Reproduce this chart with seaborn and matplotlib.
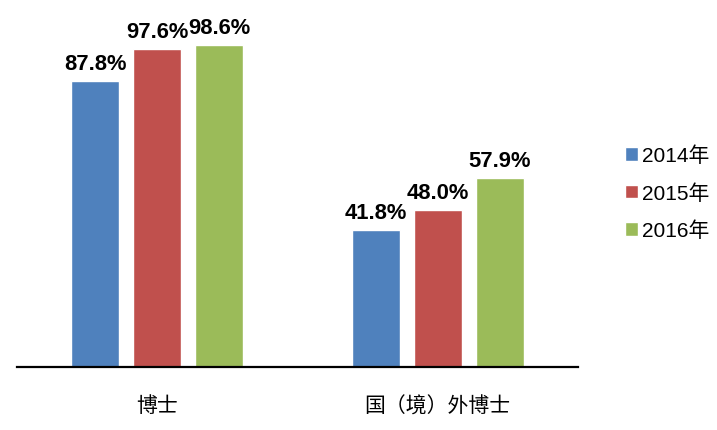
import matplotlib
matplotlib.use("Agg")
import matplotlib.pyplot as plt
import pandas as pd
import seaborn as sns

categories = ["博士", "国（境）外博士"]
years = ["2014年", "2015年", "2016年"]
rate_2014 = [87.8, 41.8]
rate_2015 = [97.6, 48.0]
rate_2016 = [98.6, 57.9]
colors = ["#4F81BD", "#C0504D", "#9BBB59"]

df = pd.DataFrame({
    "cat": categories * 3,
    "year": [y for y in years for _ in categories],
    "rate": rate_2014 + rate_2015 + rate_2016,
})

sns.set_style("white")
plt.rcParams["font.family"] = ["Liberation Sans", "Noto Sans CJK SC"]
plt.rcParams["text.color"] = "black"
plt.rcParams["xtick.color"] = "black"

fig = plt.figure(figsize=(7.17, 4.31), dpi=100)
ax = fig.add_axes([17 / 717, 63.5 / 431, 561 / 717, 342 / 431])

sns.barplot(data=df, x="cat", y="rate", hue="year", palette=colors,
            width=0.663, gap=0.226, saturation=1, ax=ax, legend=True)

for c in ax.containers:
    ax.bar_label(c, fmt="%.1f%%", padding=5, fontsize=15.8, fontweight="bold",
                 color="black", family=["Liberation Sans"])

ax.set_xlim(-0.5, 1.5)
ax.set_ylim(0, 105)
ax.set_xlabel("")
ax.set_ylabel("")
ax.set_yticks([])
ax.tick_params(axis="x", length=0, pad=20, labelsize=15, labelcolor="black")
for t in ax.get_xticklabels():
    t.set_family(["Noto Sans CJK SC"])
for s in ["top", "right", "left"]:
    ax.spines[s].set_visible(False)
ax.spines["bottom"].set_color("black")
ax.spines["bottom"].set_linewidth(1.6)

handles, labels = ax.get_legend_handles_labels()
ax.get_legend().remove()
leg = fig.legend(handles, labels, loc="center left", bbox_to_anchor=(606 / 717, 1 - 194 / 431),
                 frameon=False, fontsize=15, handlelength=0.62, handleheight=0.62,
                 handletextpad=0.2, labelspacing=0.85)
for t in leg.get_texts():
    t.set_color("black")

fig.savefig("out.png", dpi=100)
